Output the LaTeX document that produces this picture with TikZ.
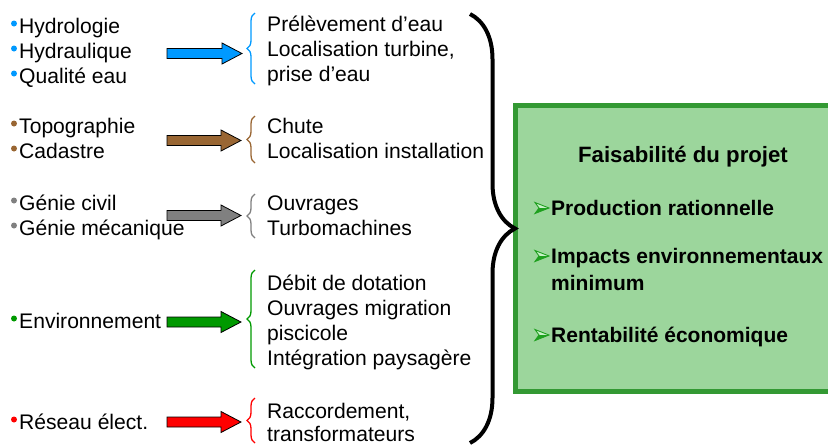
\documentclass[tikz,border=0pt]{standalone}
\usepackage{fontspec}
\setmainfont{Liberation Sans}
\usetikzlibrary{decorations.pathreplacing,calc}
\definecolor{cblue}{RGB}{0,153,255}
\definecolor{cbrown}{RGB}{153,102,51}
\definecolor{cgray}{RGB}{128,128,128}
\definecolor{cgreen}{RGB}{0,153,0}
\definecolor{cred}{RGB}{255,0,0}
\definecolor{boxfill}{RGB}{156,214,156}
\definecolor{boxline}{RGB}{51,153,51}
\definecolor{tipgreen}{RGB}{30,160,30}
\definecolor{tiplight}{RGB}{200,240,200}
\tikzset{
  txt/.style={anchor=base west, inner sep=0pt, font=\fontsize{21.1}{25}\selectfont},
  btxt/.style={anchor=base west, inner sep=0pt, font=\fontsize{21}{25}\selectfont\bfseries},
  ttl/.style={anchor=base, inner sep=0pt, font=\fontsize{22.2}{26}\selectfont\bfseries},
  dot/.style={circle, fill=#1, inner sep=0pt, minimum size=6pt},
  smallbrace/.style={draw=#1, line width=1.3pt, decorate, decoration={brace, amplitude=8pt}},
  bigbrace/.style={draw=black, line width=4pt, decorate, decoration={brace, amplitude=45pt}},
  fbox/.style={draw=boxline, fill=boxfill, line width=4.5pt, anchor=north west,
    minimum width=340pt, minimum height=286pt, inner sep=0pt},
  tiphead/.style={draw=tipgreen, fill=tiplight, line width=0.9pt, line join=miter},
}
\newcommand\fatarrow[3]{%
  \draw[fill=#1, line width=0.8pt, line join=miter]
    ($(#2)+(0,-5)$) -- ($(#3)+(-20,-5)$) -- ($(#3)+(-20,-10.5)$) -- (#3)
    -- ($(#3)+(-20,10.5)$) -- ($(#3)+(-20,5)$) -- ($(#2)+(0,5)$) -- cycle;}
\newcommand\tiphd[1]{%
  \draw[tiphead] ($(#1)+(0,-5.5)$) -- ($(#1)+(14,0)$) -- ($(#1)+(0,5.5)$) -- ($(#1)+(4,0)$) -- cycle;
  \fill[tipgreen] ($(#1)+(4,0)$) -- ($(#1)+(14,0)$) -- ($(#1)+(0,5.5)$) -- cycle;}
\begin{document}
\begin{tikzpicture}[x=1pt, y=-1pt]
\useasboundingbox (0,0) rectangle (828,445);
% green box
\node[fbox] (box) at (513.25,103.25) {};
% left column
\node[txt] (t1) at (19,33) {Hydrologie};
\node[txt] (t2) at (19,58) {Hydraulique};
\node[txt] (t3) at (19,83) {Qualité eau};
\node[txt] (t4) at (19,133) {Topographie};
\node[txt] (t5) at (19,158) {Cadastre};
\node[txt] (t6) at (19,210) {Génie civil};
\node[txt] (t7) at (19,235) {Génie mécanique};
\node[txt] (t8) at (19,328) {Environnement};
\node[txt] (t9) at (19,429) {Réseau élect.};
\node[dot=cblue] (d1) at (14,23.5) {};
\node[dot=cblue] (d2) at (14,48.5) {};
\node[dot=cblue] (d3) at (14,73.5) {};
\node[dot=cbrown] (d4) at (14,123.5) {};
\node[dot=cbrown] (d5) at (14,148.5) {};
\node[dot=cgray] (d6) at (14,200.5) {};
\node[dot=cgray] (d7) at (14,225.5) {};
\node[dot=cgreen] (d8) at (14,318.5) {};
\node[dot=cred] (d9) at (14,419.5) {};
% arrows
\coordinate (a1s) at (167,53.5);  \coordinate (a1e) at (242,53.5);
\coordinate (a2s) at (167,140.5); \coordinate (a2e) at (241,140.5);
\coordinate (a3s) at (167,215.5); \coordinate (a3e) at (241,215.5);
\coordinate (a4s) at (167,322);   \coordinate (a4e) at (241,322);
\coordinate (a5s) at (167,422);   \coordinate (a5e) at (241,422);
\fatarrow{cblue}{a1s}{a1e}
\fatarrow{cbrown}{a2s}{a2e}
\fatarrow{cgray}{a3s}{a3e}
\fatarrow{cgreen}{a4s}{a4e}
\fatarrow{cred}{a5s}{a5e}
% small braces
\coordinate (b1b) at (255,84);  \coordinate (b1t) at (255,13);
\coordinate (b2b) at (255,163); \coordinate (b2t) at (255,116);
\coordinate (b3b) at (255,238); \coordinate (b3t) at (255,194);
\coordinate (b4b) at (255,368); \coordinate (b4t) at (255,270);
\coordinate (b5b) at (255,443); \coordinate (b5t) at (255,398);
\draw[smallbrace=cblue] (b1b) -- (b1t);
\draw[smallbrace=cbrown] (b2b) -- (b2t);
\draw[smallbrace=cgray] (b3b) -- (b3t);
\draw[smallbrace=cgreen] (b4b) -- (b4t);
\draw[smallbrace=cred] (b5b) -- (b5t);
% right column
\node[txt] (r1) at (267,31) {Prélèvement d’eau};
\node[txt] (r2) at (267,56) {Localisation turbine,};
\node[txt] (r3) at (267,81) {prise d’eau};
\node[txt] (r4) at (267,133) {Chute};
\node[txt] (r5) at (267,158) {Localisation installation};
\node[txt] (r6) at (267,210) {Ouvrages};
\node[txt] (r7) at (267,235) {Turbomachines};
\node[txt] (r8) at (267,290) {Débit de dotation};
\node[txt] (r9) at (267,315) {Ouvrages migration};
\node[txt] (r10) at (267,340) {piscicole};
\node[txt] (r11) at (267,365) {Intégration paysagère};
\node[txt] (r12) at (267,418) {Raccordement,};
\node[txt] (r13) at (267,441) {transformateurs};
% big brace
\coordinate (bbt) at (470,14); \coordinate (bbb) at (470,443);
\draw[bigbrace] (bbt) -- (bbb);
% box contents
\node[ttl] (title) at (683,162) {Faisabilité du projet};
\coordinate (k1) at (535,208);
\coordinate (k2) at (535,256);
\coordinate (k3) at (535,335);
\tiphd{k1}
\tiphd{k2}
\tiphd{k3}
\node[btxt] (p1) at (551,215) {Production rationnelle};
\node[btxt] (p2) at (551,263) {Impacts environnementaux};
\node[btxt] (p3) at (551,290) {minimum};
\node[btxt] (p4) at (551,342) {Rentabilité économique};
\end{tikzpicture}
\end{document}
